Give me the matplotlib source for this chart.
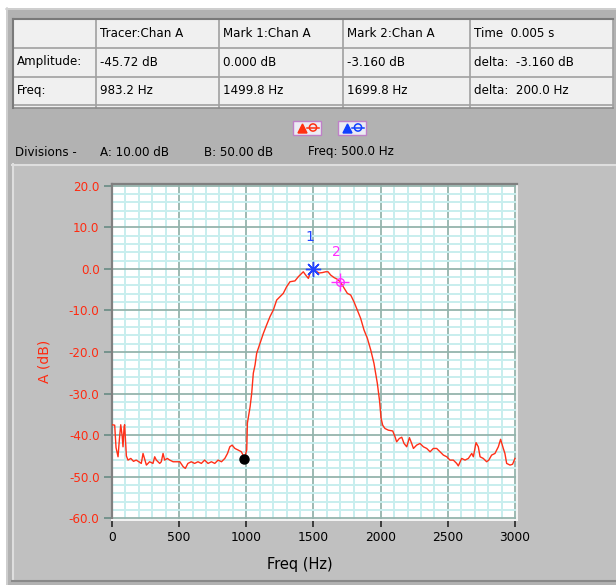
import matplotlib
matplotlib.use('Agg')
import matplotlib.pyplot as plt
from matplotlib.patches import Rectangle, Polygon, Circle
from matplotlib.ticker import MultipleLocator, FormatStrFormatter

# ---------------- data ----------------
freq_hz = [0, 20, 30, 45, 55, 65, 75, 82, 90, 94, 107, 119, 140, 160, 180, 200, 218, 231, 256, 280,
           305, 318, 330, 355, 367, 380, 392, 412, 430, 455, 480, 505, 530, 546, 565, 590, 615, 640,
           665, 690, 715, 740, 765, 790, 815, 840, 860, 877, 894, 915, 940, 963, 975, 983,
           1003, 1008, 1028, 1040, 1052, 1065, 1077, 1102, 1127, 1151, 1176, 1201, 1226, 1251, 1275,
           1300, 1325, 1362, 1387, 1424, 1442, 1462, 1474, 1500, 1517, 1541, 1566, 1591, 1608, 1628,
           1653, 1677, 1700, 1727, 1752, 1777, 1801, 1826, 1851, 1876, 1901, 1926, 1950, 1975, 1992,
           2003, 2015, 2032, 2057, 2090, 2107, 2119, 2139, 2157, 2174, 2194, 2214, 2231, 2244, 2268,
           2293, 2318, 2343, 2368, 2392, 2417, 2442, 2467, 2492, 2516, 2541, 2566, 2578, 2603, 2628,
           2653, 2678, 2690, 2710, 2727, 2740, 2764, 2789, 2805, 2826, 2851, 2876, 2893, 2913, 2925,
           2938, 2963, 2982, 3000]
amp_db = [-37.5, -37.6, -43.0, -45.2, -41.0, -37.5, -40.0, -42.8, -38.0, -37.5, -45.0, -46.0, -45.6,
          -46.3, -46.0, -46.4, -46.8, -44.4, -47.2, -46.4, -46.8, -45.2, -46.0, -46.8, -46.4, -44.4,
          -46.0, -45.6, -46.0, -46.4, -46.4, -46.4, -47.6, -48.0, -46.8, -46.4, -46.8, -46.4, -46.8,
          -46.0, -46.8, -46.4, -46.8, -46.0, -46.4, -45.6, -44.4, -42.8, -42.4, -43.2, -43.6, -44.0,
          -44.8, -45.7,
          -43.6, -37.1, -33.2, -29.9, -25.1, -23.1, -20.3, -17.9, -15.5, -13.5, -11.5, -9.9, -7.5,
          -6.7, -5.9, -4.3, -3.1, -2.9, -1.9, -0.7, -1.5, -2.3, -1.1, 0.0, -0.5, -1.0, -0.9, -0.7,
          -0.7, -1.5, -2.1, -2.5, -3.16, -4.6, -5.9, -6.3, -7.9, -9.9, -11.9, -14.7, -16.7, -19.5,
          -22.7, -27.5, -31.8,
          -35.9, -37.6, -38.4, -38.8, -39.0, -40.4, -41.6, -40.8, -40.5, -42.0, -42.8, -40.6, -42.0,
          -43.2, -42.4, -42.0, -42.8, -43.2, -44.0, -43.2, -43.2, -44.0, -44.8, -45.2, -46.0, -46.0,
          -46.8, -47.4, -45.6, -46.0, -45.6, -44.4, -45.2, -41.8, -42.8, -45.2, -45.6, -46.4, -46.0,
          -44.8, -44.4, -42.8, -41.0, -43.2, -44.4, -46.8, -47.2, -47.0, -45.6]

tracer = (983.2, -45.72)
mark1 = (1499.8, 0.0)
mark2 = (1699.8, -3.16)

x_ticks = [0, 500, 1000, 1500, 2000, 2500, 3000]
y_ticks = [-60, -50, -40, -30, -20, -10, 0, 10, 20]

table_rows = [
    ["", "Tracer:Chan A", "Mark 1:Chan A", "Mark 2:Chan A", "Time  0.005 s"],
    ["Amplitude:", "-45.72 dB", "0.000 dB", "-3.160 dB", "delta:  -3.160 dB"],
    ["Freq:", "983.2 Hz", "1499.8 Hz", "1699.8 Hz", "delta:  200.0 Hz"],
]
divisions = ["Divisions -", "A: 10.00 dB", "B: 50.00 dB", "Freq: 500.0 Hz"]

# ---------------- figure ----------------
W, H = 616, 585
fig = plt.figure(figsize=(W / 100, H / 100), dpi=100)
fig.patch.set_facecolor('white')
plt.rcParams['font.family'] = ['DejaVu Sans']

bg = fig.add_axes([0, 0, 1, 1])
bg.set_xlim(0, W)
bg.set_ylim(H, 0)
bg.axis('off')

# outer panel
bg.add_patch(Rectangle((6, 8), W - 6, H - 8, facecolor='#b2b2b2', edgecolor='none'))
bg.plot([6, W], [8.5, 8.5], color='#d4d4d4', lw=1.2)
bg.plot([6.5, 6.5], [8, H], color='#d4d4d4', lw=1.2)

# table
tab_x = [13, 96, 219, 343, 470, 613]
tab_y = [19, 48, 77, 105, 108]
bg.add_patch(Rectangle((tab_x[0], tab_y[0]), tab_x[-1] - tab_x[0], tab_y[-1] - tab_y[0],
                       facecolor='#f0f0f0', edgecolor='none'))
for xv in tab_x:
    bg.plot([xv, xv], [tab_y[0], tab_y[-1]], color='#a0a0a0', lw=1.2)
for yv in tab_y[:-1]:
    bg.plot([tab_x[0], tab_x[-1]], [yv, yv], color='#a0a0a0', lw=1.2)
bg.plot([tab_x[0], tab_x[-1]], [tab_y[-1], tab_y[-1]], color='#8c8c8c', lw=1.2)
bg.plot([tab_x[0], tab_x[0]], [tab_y[0], tab_y[-1]], color='#7a7a7a', lw=1.5)
bg.plot([tab_x[0], tab_x[-1]], [tab_y[0], tab_y[0]], color='#7a7a7a', lw=1.5)
row_y = [33.5, 62, 90.5]
for r, row in enumerate(table_rows):
    for c, txt in enumerate(row):
        bg.text(tab_x[c] + 4, row_y[r], txt, ha='left', va='center', fontsize=8.6, color='black')

# icons
def icon(x0, col):
    bg.add_patch(Rectangle((x0, 121), 28, 14, facecolor='#ececf4', edgecolor='#c080c8', lw=1.0))
    bg.add_patch(Polygon([[x0 + 5, 133], [x0 + 9.5, 124], [x0 + 14, 133]], closed=True,
                         facecolor=col, edgecolor=col))
    bg.add_patch(Circle((x0 + 20, 127.5), 3.6, facecolor='none', edgecolor=col, lw=1.1))
    bg.plot([x0 + 14, x0 + 26], [127.5, 127.5], color=col, lw=1.1)

icon(293, '#ff3010')
icon(338, '#1040ff')

div_x = [15, 100, 204, 308]
for xv, txt in zip(div_x, divisions):
    bg.text(xv, 152, txt, ha='left', va='center', fontsize=8.6, color='black')

# graph panel
bg.add_patch(Rectangle((12, 164), W - 12, 417, facecolor='#c0c0c0', edgecolor='none'))
bg.plot([12, W], [164.5, 164.5], color='#dedede', lw=1.5)
bg.plot([12.5, 12.5], [164, 581], color='#dedede', lw=1.5)
bg.plot([12, W], [581, 581], color='#8a8a8a', lw=1.5)

# ---------------- plot axes ----------------
def px(x0, y0, x1, y1):
    return [x0 / W, 1 - y1 / H, (x1 - x0) / W, (y1 - y0) / H]

ax = fig.add_axes(px(112, 184, 517, 520))
ax.set_facecolor('white')
ax.set_xlim(0, 3015)
ax.set_ylim(-60.41, 20.41)
ax.set_axisbelow(True)
ax.xaxis.set_minor_locator(MultipleLocator(100))
ax.yaxis.set_minor_locator(MultipleLocator(2))
ax.set_xticks(x_ticks)
ax.set_yticks(y_ticks)
ax.yaxis.set_major_formatter(FormatStrFormatter('%.1f'))
ax.grid(which='minor', color='#c8eeee', lw=1.4)
ax.grid(which='major', color='#95b4ad', lw=1.3)
ax.tick_params(which='minor', length=0)
ax.tick_params(axis='y', which='major', length=6, width=1.3, color='#6f8f88',
               labelcolor='#ff2a10', labelsize=8.6, pad=3)
ax.tick_params(axis='x', which='major', length=5, width=1.3, color='#303030',
               labelcolor='black', labelsize=8.8, pad=3)
for s in ['left', 'top']:
    ax.spines[s].set_color('#808080')
    ax.spines[s].set_linewidth(1.6)
for s in ['right', 'bottom']:
    ax.spines[s].set_color('#f4f4f4')
    ax.spines[s].set_linewidth(1.4)

ax.plot(freq_hz, amp_db, color='#ff3018', lw=1.0, zorder=3)
ax.plot(*tracer, 'o', color='black', ms=6.5, zorder=5)
ax.plot(*mark1, marker=(8, 2, 0), ms=11, color='#2244ff', mew=1.0, zorder=6, linestyle='none')
ax.plot(*mark2, marker='+', ms=13, color='#ff30ff', mew=1.0, zorder=6, linestyle='none')
ax.plot(*mark2, marker='o', ms=5.5, mfc='none', mec='#ff30ff', mew=1.0, zorder=6, linestyle='none')
ax.text(1470, 7.7, '1', color='#2244ff', fontsize=10, ha='center', va='center')
ax.text(1673, 4.1, '2', color='#ff30ff', fontsize=10, ha='center', va='center')

bg.text(45, 361, 'A (dB)', rotation=90, color='#ff2a10', fontsize=10, ha='center', va='center')
bg.text(300, 565, 'Freq (Hz)', color='black', fontsize=10.5, ha='center', va='center')

fig.savefig('out.png', dpi=100, facecolor='white')
